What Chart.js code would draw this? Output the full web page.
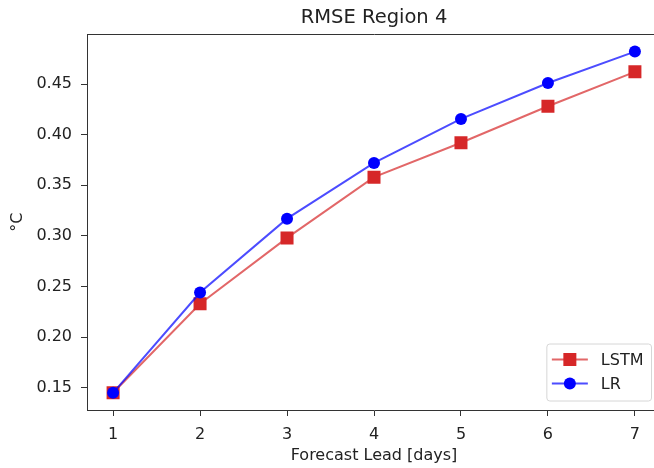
<!DOCTYPE html>
<html><head><meta charset="utf-8">
<script src="https://cdn.jsdelivr.net/npm/chart.js@4/dist/chart.umd.min.js"></script>
<style>
html,body{margin:0;padding:0;background:#fff;overflow:hidden;}
#wrap{width:654px;height:468px;overflow:hidden;position:relative;background:#fff;}
canvas{display:block;}
</style></head>
<body><div id="wrap"><canvas id="c" width="672" height="468"></canvas></div>
<script>
const chartTitle = 'RMSE Region 4';
const xAxisTitle = 'Forecast Lead [days]';
const yAxisTitle = '°C';
const seriesNames = ['LSTM', 'LR'];
const leadDays = [1, 2, 3, 4, 5, 6, 7];
const lstmRmse = [0.145, 0.233, 0.298, 0.358, 0.392, 0.428, 0.462];
const lrRmse = [0.145, 0.244, 0.317, 0.372, 0.4155, 0.451, 0.482];
const xTickValues = [1, 2, 3, 4, 5, 6, 7];
const yTickValues = [0.15, 0.20, 0.25, 0.30, 0.35, 0.40, 0.45];

const FONT = '"DejaVu Sans", sans-serif';
const AXIS_COLOR = '#333';
const TEXT_COLOR = '#222';

const toPoints = (xs, ys) => xs.map((x, i) => ({x: x, y: ys[i]}));

const framePlugin = {
  id: 'frame',
  afterDatasetsDraw(chart) {
    const ctx = chart.ctx, ca = chart.chartArea;
    ctx.save();
    ctx.strokeStyle = AXIS_COLOR;
    ctx.lineWidth = 1;
    ctx.beginPath();
    ctx.moveTo(Math.round(ca.left) + 0.5, Math.round(ca.top) + 0.5);
    ctx.lineTo(Math.round(ca.right) + 0.5, Math.round(ca.top) + 0.5);
    ctx.lineTo(Math.round(ca.right) + 0.5, Math.round(ca.bottom) + 0.5);
    ctx.stroke();
    ctx.restore();
  }
};

const legendPlugin = {
  id: 'boxLegend',
  afterDraw(chart) {
    const ctx = chart.ctx, ca = chart.chartArea;
    const ds = chart.data.datasets;
    ctx.save();
    ctx.font = '16px ' + FONT;
    const textW = Math.max(...ds.map(d => ctx.measureText(d.label).width));
    const w = 54 + textW + 8;
    const h = 57;
    const right = ca.right - 9.5, bottom = ca.bottom - 9;
    const x0 = right - w, y0 = bottom - h;
    const r = 3;
    ctx.beginPath();
    ctx.moveTo(x0 + r, y0);
    ctx.lineTo(x0 + w - r, y0);
    ctx.quadraticCurveTo(x0 + w, y0, x0 + w, y0 + r);
    ctx.lineTo(x0 + w, y0 + h - r);
    ctx.quadraticCurveTo(x0 + w, y0 + h, x0 + w - r, y0 + h);
    ctx.lineTo(x0 + r, y0 + h);
    ctx.quadraticCurveTo(x0, y0 + h, x0, y0 + h - r);
    ctx.lineTo(x0, y0 + r);
    ctx.quadraticCurveTo(x0, y0, x0 + r, y0);
    ctx.closePath();
    ctx.fillStyle = 'rgba(255,255,255,0.85)';
    ctx.fill();
    ctx.strokeStyle = '#d6d6d6';
    ctx.lineWidth = 1;
    ctx.stroke();
    ds.forEach((d, i) => {
      const cy = y0 + 15.5 + i * 24;
      const lx = x0 + 5;
      ctx.strokeStyle = d.borderColor;
      ctx.lineWidth = d.borderWidth;
      ctx.beginPath();
      ctx.moveTo(lx, cy);
      ctx.lineTo(lx + 36, cy);
      ctx.stroke();
      ctx.fillStyle = d.pointBackgroundColor;
      ctx.beginPath();
      if (d.pointStyle === 'rect') {
        const s = d.pointRadius * Math.SQRT1_2;
        ctx.rect(lx + 18 - s, cy - s, 2 * s, 2 * s);
      } else {
        ctx.arc(lx + 18, cy, d.pointRadius, 0, Math.PI * 2);
      }
      ctx.fill();
      ctx.fillStyle = TEXT_COLOR;
      ctx.textBaseline = 'middle';
      ctx.textAlign = 'left';
      ctx.fillText(d.label, x0 + 54, cy + 1);
    });
    ctx.restore();
  }
};

new Chart(document.getElementById('c'), {
  type: 'line',
  data: {
    datasets: [
      {
        label: seriesNames[0],
        data: toPoints(leadDays, lstmRmse),
        borderColor: 'rgba(214,39,40,0.7)',
        backgroundColor: '#d62728',
        pointBackgroundColor: '#d62728',
        pointBorderWidth: 0,
        pointStyle: 'rect',
        pointRadius: 9.2,
        borderWidth: 2,
        order: 2
      },
      {
        label: seriesNames[1],
        data: toPoints(leadDays, lrRmse),
        borderColor: 'rgba(0,0,255,0.7)',
        backgroundColor: '#0000ff',
        pointBackgroundColor: '#0000ff',
        pointBorderWidth: 0,
        pointStyle: 'circle',
        pointRadius: 6,
        borderWidth: 2,
        order: 1
      }
    ]
  },
  options: {
    responsive: false,
    animation: false,
    events: [],
    layout: {padding: {left: 0, right: 11, top: 0, bottom: 0}},
    plugins: {
      legend: {display: false},
      tooltip: {enabled: false},
      title: {
        display: true,
        text: chartTitle,
        fullSize: false,
        color: TEXT_COLOR,
        font: {family: FONT, size: 19.5, weight: 'normal'},
        padding: {top: 6.5, bottom: 4.5}
      }
    },
    scales: {
      x: {
        type: 'linear',
        min: 0.7,
        max: 7.3,
        afterBuildTicks(scale) { scale.ticks = xTickValues.map(v => ({value: v})); },
        afterFit(scale) { scale.height = 58; },
        grid: {display: true, drawOnChartArea: false, drawTicks: true, tickLength: 6, color: AXIS_COLOR},
        border: {display: true, color: AXIS_COLOR, width: 1},
        ticks: {color: TEXT_COLOR, font: {family: FONT, size: 16}, padding: 9, maxRotation: 0,
                callback: v => String(v)},
        title: {display: true, text: xAxisTitle, color: TEXT_COLOR,
                font: {family: FONT, size: 16}, padding: {top: 2, bottom: 3}}
      },
      y: {
        type: 'linear',
        min: 0.128,
        max: 0.499,
        afterBuildTicks(scale) { scale.ticks = yTickValues.map(v => ({value: v})); },
        afterFit(scale) { scale.width = 87; },
        grid: {display: true, drawOnChartArea: false, drawTicks: true, tickLength: 6, color: AXIS_COLOR},
        border: {display: true, color: AXIS_COLOR, width: 1},
        ticks: {color: TEXT_COLOR, font: {family: FONT, size: 16}, padding: 9,
                callback: v => Number(v).toFixed(2)},
        title: {display: true, text: yAxisTitle, color: TEXT_COLOR,
                font: {family: FONT, size: 16}, padding: {top: 8, bottom: 2}}
      }
    }
  },
  plugins: [framePlugin, legendPlugin]
});
</script>
</body></html>
